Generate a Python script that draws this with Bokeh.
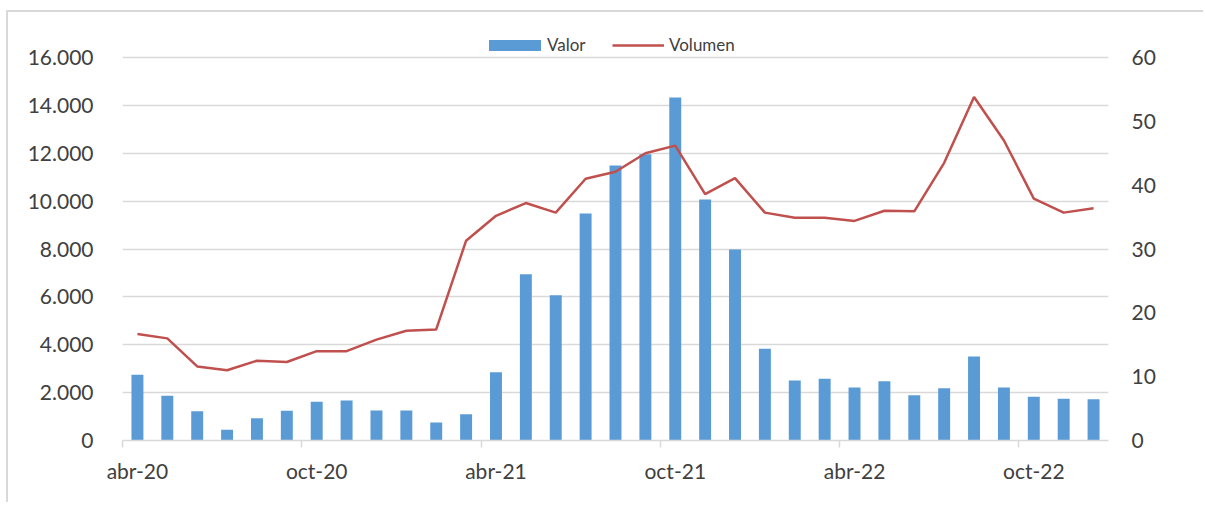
from bokeh.plotting import figure
from bokeh.models import (Range1d, LinearAxis, FixedTicker, Legend, LegendItem,
                          ColumnDataSource)
from bokeh.embed import file_html
from bokeh.resources import INLINE

months = ["abr-20", "may-20", "jun-20", "jul-20", "ago-20", "sep-20", "oct-20", "nov-20", "dic-20",
          "ene-21", "feb-21", "mar-21", "abr-21", "may-21", "jun-21", "jul-21", "ago-21", "sep-21",
          "oct-21", "nov-21", "dic-21", "ene-22", "feb-22", "mar-22", "abr-22", "may-22", "jun-22",
          "jul-22", "ago-22", "sep-22", "oct-22", "nov-22", "dic-22"]
valor = [2750, 1870, 1225, 446, 933, 1240, 1616, 1671, 1253, 1253, 752, 1100,
         2855, 6950, 6072, 9480, 11490, 11962, 14331, 10069, 7980,
         3830, 2507, 2577, 2214, 2479, 1894, 2186, 3510, 2214, 1824, 1741, 1727]
volumen = [16.7, 16.0, 11.6, 11.0, 12.5, 12.3, 14.0, 14.0, 15.8, 17.2, 17.4,
           31.3, 35.2, 37.2, 35.7, 41.0, 42.1, 45.0, 46.2, 38.6, 41.1,
           35.7, 34.9, 34.9, 34.4, 36.0, 35.9, 43.5, 53.8, 47.0, 37.9, 35.7, 36.4]
left_ticks = [0, 2000, 4000, 6000, 8000, 10000, 12000, 14000, 16000]
left_labels = ["0", "2.000", "4.000", "6.000", "8.000", "10.000", "12.000", "14.000", "16.000"]
right_ticks = [0, 10, 20, 30, 40, 50, 60]
label_idx = [0, 6, 12, 18, 24, 30]

FONT = "Lato"
TXT = "#404040"
GRID = "#D9D9D9"

# layout (pixels): frame extends above top gridline so the legend sits inside it
GRID_H = 383          # pixel height from 0 to the top gridline
FRAME_H = 415         # frame height
left_max = left_ticks[-1] * FRAME_H / GRID_H
right_max = right_ticks[-1] * FRAME_H / GRID_H

x = list(range(len(months)))
src = ColumnDataSource(dict(x=x, valor=valor, volumen=volumen))

p = figure(width=1197, height=492, output_backend="svg", toolbar_location=None,
           x_range=Range1d(-0.5, len(months) - 0.5), y_range=Range1d(0, left_max),
           min_border_left=114, min_border_right=97, min_border_top=13, min_border_bottom=64)
p.outline_line_color = None
p.background_fill_color = "white"
p.border_fill_color = "white"
p.styles = {"margin-left": "6px", "margin-top": "10px",
            "border-top": "2px solid #D9D9D9", "border-left": "2px solid #D9D9D9"}
p.extra_y_ranges = {"vol": Range1d(0, right_max)}

bars = p.vbar(x="x", top="valor", width=0.4, source=src, fill_color="#5B9BD5", line_color=None)
line = p.line(x="x", y="volumen", source=src, y_range_name="vol",
              line_color="#C0504D", line_width=2.5)

# x axis
xa = p.xaxis[0]
xa.ticker = FixedTicker(ticks=[x[i] for i in label_idx],
                        minor_ticks=[x[i] - 0.5 for i in label_idx])
xa.major_label_overrides = {x[i]: months[i] for i in label_idx}
xa.major_tick_line_color = None
xa.major_tick_out = 0
xa.major_tick_in = 0
xa.minor_tick_line_color = GRID
xa.minor_tick_line_width = 1.5
xa.minor_tick_out = 7
xa.minor_tick_in = 0
xa.axis_line_color = GRID
xa.axis_line_width = 1.5
xa.major_label_standoff = 10
xa.major_label_text_font = FONT
xa.major_label_text_font_size = "21px"
xa.major_label_text_color = TXT

# left y axis
ya = p.yaxis[0]
ya.ticker = FixedTicker(ticks=left_ticks)
ya.major_label_overrides = {t: l for t, l in zip(left_ticks, left_labels)}
ya.axis_line_color = None
ya.major_tick_line_color = None
ya.minor_tick_line_color = None
ya.major_tick_out = 0
ya.major_tick_in = 0
ya.major_label_standoff = 29
ya.major_label_text_font = FONT
ya.major_label_text_font_size = "21px"
ya.major_label_text_color = TXT

# right y axis
ra = LinearAxis(y_range_name="vol", ticker=FixedTicker(ticks=right_ticks))
ra.axis_line_color = None
ra.major_tick_line_color = None
ra.minor_tick_line_color = None
ra.major_tick_out = 0
ra.major_tick_in = 0
ra.major_label_standoff = 23
ra.major_label_text_font = FONT
ra.major_label_text_font_size = "21px"
ra.major_label_text_color = TXT
p.add_layout(ra, "right")

p.xgrid.grid_line_color = None
p.ygrid.grid_line_color = GRID
p.ygrid.grid_line_width = 1.5
p.ygrid.ticker = FixedTicker(ticks=left_ticks)

leg1 = Legend(items=[LegendItem(label="Valor", renderers=[bars])], location=(360, 385),
              glyph_width=65, glyph_height=14, label_standoff=0)
leg2 = Legend(items=[LegendItem(label="Volumen", renderers=[line])], location=(490, 385),
              glyph_width=52, glyph_height=14, label_standoff=5)
for leg in (leg1, leg2):
    leg.border_line_color = None
    leg.background_fill_alpha = 0
    leg.padding = 0
    leg.margin = 0
    leg.label_text_font = FONT
    leg.label_text_font_size = "17px"
    leg.label_text_color = TXT
    p.add_layout(leg)

open("out.html", "w").write(file_html(p, INLINE))
